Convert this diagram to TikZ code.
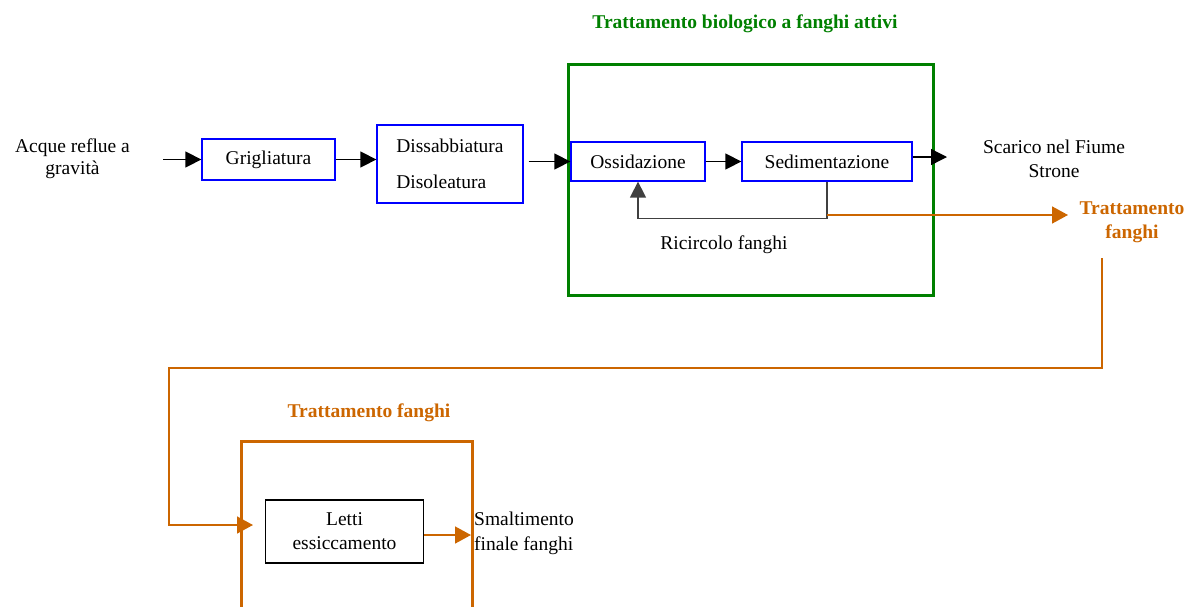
\documentclass[tikz,border=0pt]{standalone}
\usepackage{fontspec}
\setmainfont{Liberation Serif}
\usetikzlibrary{arrows.meta}
\definecolor{cblue}{RGB}{0,0,255}
\definecolor{cgreen}{RGB}{0,128,0}
\definecolor{corange}{RGB}{204,102,0}
\definecolor{cgray}{RGB}{64,64,64}
\begin{document}
\begin{tikzpicture}[x=1pt,y=-1pt,
  font=\fontsize{19.5}{23}\selectfont,
  bluebox/.style={draw=cblue,line width=1.3pt,inner sep=0pt},
  blackbox/.style={draw=black,line width=1.3pt,inner sep=0pt},
  arr/.style={line width=1.4pt,-{Triangle[length=16pt,width=16pt]}},
  garr/.style={draw=cgray,line width=1.5pt,-{Triangle[length=16pt,width=16pt]}},
  oarr/.style={draw=corange,line width=1.6pt,-{Triangle[length=16pt,width=17pt]}},
  gtitle/.style={text=cgreen,font=\fontsize{19.5}{23}\selectfont\bfseries},
  otitle/.style={text=corange,font=\fontsize{19.5}{24}\selectfont\bfseries,align=center},
  lbl/.style={align=center,inner sep=2pt}]
\useasboundingbox (0,0) rectangle (1189,606);

% upper line
\node[lbl,font=\fontsize{19.5}{22}\selectfont] (acque) at (72.5,159) {Acque reflue a\\gravità};
\coordinate (start) at (163,159.5);
\node[bluebox,minimum width=133pt,minimum height=41pt] (grig) at (268.5,159.5) {Grigliatura};
\node[bluebox,minimum width=146pt,minimum height=78pt,align=left,font=\fontsize{19.5}{22}\selectfont] (diss) at (450,164) {Dissabbiatura\\[14pt]Disoleatura};

% biological treatment
\node[draw=cgreen,line width=3pt,minimum width=365pt,minimum height=231pt,inner sep=0pt] (bio) at (750.5,179.5) {};
\node[gtitle] (biot) at (745,24) {Trattamento biologico a fanghi attivi};
\node[bluebox,minimum width=134pt,minimum height=39pt] (oss) at (638,161.5) {Ossidazione};
\node[bluebox,minimum width=170pt,minimum height=39pt] (sed) at (827,161.5) {Sedimentazione};
\node[lbl] (ric) at (724,245) {Ricircolo fanghi};
\node[lbl,font=\fontsize{19.5}{24}\selectfont] (scar) at (1054,159) {Scarico nel Fiume\\Strone};
\coordinate (outp) at (947,157);
\node[otitle] (tf) at (1132,222) {Trattamento\\fanghi};
\coordinate (split) at (827,215);
\coordinate (tfin) at (1068,215);
\coordinate (tfout) at (1102,258);

\draw[arr] (start) -- (grig.west);
\draw[arr] (grig.east) -- (diss.west |- grig.east);
\draw[arr] ([xshift=5pt]diss.east |- oss.west) -- (oss.west);
\draw[arr] (oss.east) -- (sed.west);
\draw[arr] (sed.east |- outp) -- (outp);
\draw[garr] (sed.south) -- ++(0,37) -| (oss.south);
\draw[oarr] (split) -- (tfin);

% sludge treatment
\node[draw=corange,line width=3pt,minimum width=231pt,minimum height=220pt,inner sep=0pt] (fbox) at (356.5,551) {};
\node[otitle] (ftit) at (369,413) {Trattamento fanghi};
\node[blackbox,minimum width=158pt,minimum height=63pt,align=center,font=\fontsize{19.5}{24}\selectfont] (letti) at (344.5,531.5) {Letti\\essiccamento};
\node[align=left,anchor=west,inner sep=0pt,font=\fontsize{19.5}{25}\selectfont] (smal) at (474,533) {Smaltimento\\finale fanghi};
\coordinate (fin) at (253,525);

\draw[oarr] (tfout) -- (1102,368) -- (169,368) -- (169,525) -- (fin);
\draw[oarr] (letti.east |- 0,535) -- (471,535);
\end{tikzpicture}
\end{document}
